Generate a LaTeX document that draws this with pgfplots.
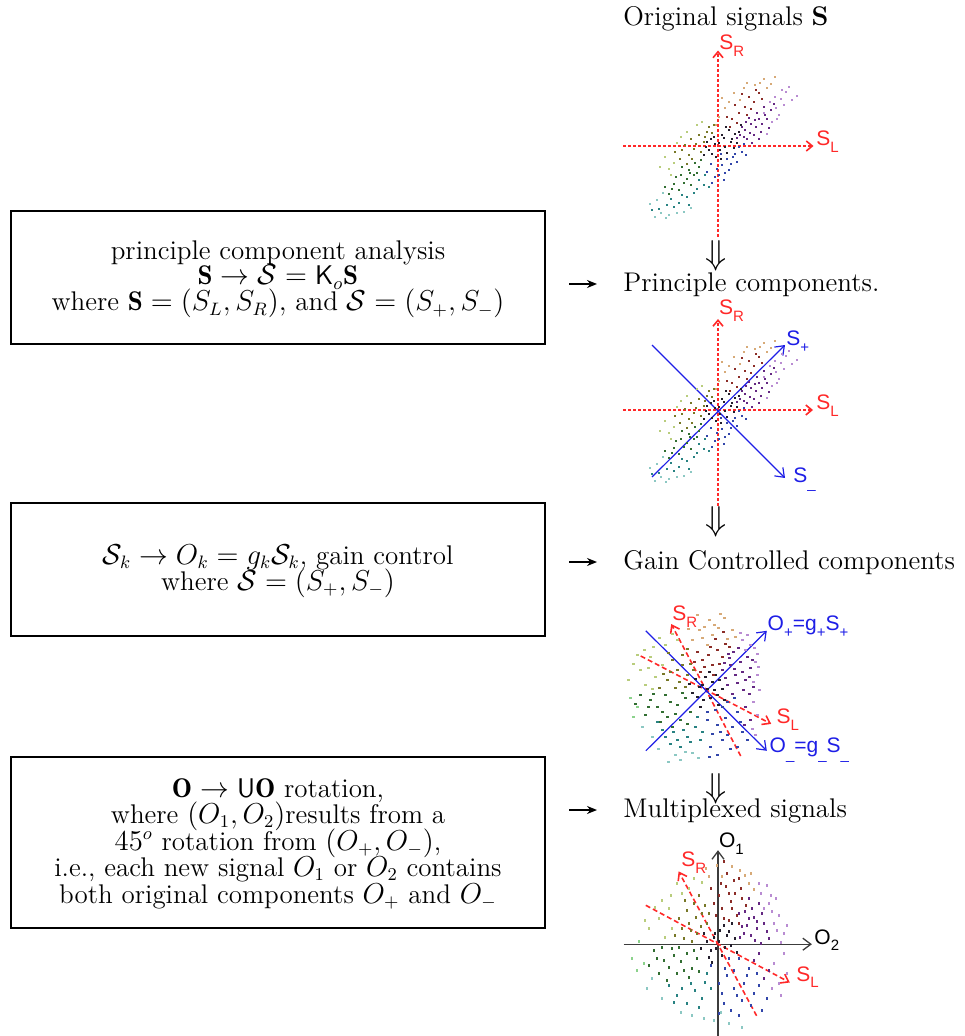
\documentclass[border=0pt]{standalone}
\usepackage{pgfplots}
\pgfplotsset{compat=1.18}
\usepackage{pgfplotstable}
\usepackage{fontspec}
\newfontfamily\arial{Liberation Sans}
\usetikzlibrary{arrows.meta}
\definecolor{cK}{RGB}{35,30,45}
\definecolor{cB}{RGB}{50,70,170}
\definecolor{cP}{RGB}{100,40,130}
\definecolor{cM}{RGB}{185,140,210}
\definecolor{cR}{RGB}{140,45,40}
\definecolor{cO}{RGB}{215,170,120}
\definecolor{cY}{RGB}{120,120,40}
\definecolor{cL}{RGB}{185,205,125}
\definecolor{cG}{RGB}{50,110,50}
\definecolor{cT}{RGB}{40,130,130}
\definecolor{cW}{RGB}{140,200,195}
\definecolor{cE}{RGB}{140,210,140}
\definecolor{sred}{RGB}{255,40,40}
\definecolor{sblue}{RGB}{30,30,230}
\definecolor{sgray}{RGB}{60,60,60}
\newcommand\lb[2]{#1\raisebox{-3.3pt}{\fontsize{7.5}{8}\selectfont #2}}
\pgfplotsset{
  panel/.style={hide axis, scale only axis, width=90pt, height=90pt,
    xmin=-0.9, xmax=0.9, ymin=-0.9, ymax=0.9, anchor=origin, clip=false},
  cloud/.style={scatter, only marks, mark size=0.4pt, scatter src=explicit symbolic,
    scatter/classes={
      K={mark=square*,draw=cK,fill=cK}, B={mark=square*,draw=cB,fill=cB},
      P={mark=square*,draw=cP,fill=cP}, M={mark=square*,draw=cM,fill=cM},
      R={mark=square*,draw=cR,fill=cR}, O={mark=square*,draw=cO,fill=cO},
      Y={mark=square*,draw=cY,fill=cY}, L={mark=square*,draw=cL,fill=cL},
      G={mark=square*,draw=cG,fill=cG}, T={mark=square*,draw=cT,fill=cT},
      W={mark=square*,draw=cW,fill=cW}, E={mark=square*,draw=cE,fill=cE}}},
  redax/.style={color=sred, line width=0.8pt, dash pattern=on 1.5pt off 1pt,
    -{Straight Barb[length=3pt,width=5pt]}},
  redax2/.style={color=sred, line width=0.8pt, dash pattern=on 2.5pt off 1.5pt,
    -{Straight Barb[length=3.5pt,width=5pt]}},
  blueax/.style={color=sblue, line width=0.6pt, -{Straight Barb[length=4pt,width=6pt]}},
  grayax/.style={color=sgray, line width=0.65pt, -{Straight Barb[length=4pt,width=6pt]}},
}
\pgfplotstableread{
x y c
0.01 0.03 K
-0.03 0.02 K
0.07 -0.01 K
-0.09 -0.04 K
0.04 0.11 K
0.13 0.04 K
-0.02 -0.11 K
0.09 -0.07 K
-0.07 0.07 K
0.02 -0.04 K
0.06 0.08 K
-0.12 -0.01 K
0.14 0.07 K
0.03 -0.13 K
0.17 0.12 K
-0.14 -0.09 K
0.11 0.16 K
-0.06 -0.08 K
0.21 0.14 K
0.08 0.19 K
-0.11 0.04 K
0.19 0.03 K
0.23 0.21 K
-0.04 0.09 K
0.16 -0.02 K
0.09 -0.13 B
0.17 -0.08 B
0.04 -0.19 B
0.21 -0.01 B
0.13 -0.18 B
-0.01 -0.23 B
0.24 -0.06 B
0.07 -0.27 B
-0.07 -0.18 B
0.19 -0.16 B
-0.03 -0.31 B
0.28 -0.09 B
-0.06 -0.37 B
0.01 -0.29 B
0.11 -0.24 B
0.26 0.02 B
0.15 -0.11 B
-0.11 -0.26 B
0.06 -0.34 B
0.03 -0.08 B
0.27 0.16 P
0.33 0.22 P
0.29 0.07 P
0.41 0.27 P
0.38 0.19 P
0.47 0.31 P
0.36 0.11 P
0.53 0.36 P
0.49 0.27 P
0.31 0.28 P
0.44 0.22 P
0.26 0.09 P
0.51 0.18 P
0.34 0.03 P
0.22 0.11 P
0.39 0.33 P
0.56 0.42 P
0.43 0.14 P
0.24 0.19 P
0.46 0.39 P
0.32 0.13 P
0.28 0.24 P
0.37 0.26 P
0.41 0.07 P
0.19 0.08 P
0.63 0.47 M
0.68 0.54 M
0.57 0.49 M
0.61 0.31 M
0.79 0.50 M
0.66 0.41 M
0.49 0.12 M
0.71 0.59 M
0.58 0.38 M
0.54 0.24 M
0.64 0.56 M
0.52 0.44 M
0.74 0.46 M
0.46 0.33 M
0.59 0.27 M
0.14 0.27 R
0.21 0.33 R
0.17 0.41 R
0.27 0.39 R
0.09 0.29 R
0.31 0.49 R
0.36 0.44 R
0.24 0.52 R
0.41 0.53 R
0.19 0.23 R
0.33 0.37 R
0.12 0.19 R
0.29 0.31 R
0.44 0.47 R
0.38 0.56 R
0.07 0.38 O
0.04 0.48 O
0.16 0.53 O
0.29 0.63 O
0.46 0.67 O
0.53 0.62 O
0.57 0.69 O
0.37 0.61 O
0.01 0.29 O
0.22 0.46 O
0.11 0.44 O
0.42 0.63 O
0.26 0.58 O
-0.02 0.21 O
0.49 0.58 O
-0.14 0.04 Y
-0.24 -0.03 Y
-0.19 0.11 Y
-0.29 -0.09 Y
-0.33 0.01 Y
-0.11 0.14 Y
-0.38 -0.13 Y
-0.27 0.07 Y
-0.43 -0.06 Y
-0.09 0.19 Y
-0.17 -0.06 Y
-0.22 0.02 Y
-0.31 -0.18 Y
-0.06 0.13 Y
-0.36 -0.04 Y
-0.13 0.09 Y
-0.26 -0.13 Y
-0.04 0.21 Y
-0.49 -0.23 L
-0.53 -0.11 L
-0.37 0.09 L
-0.21 0.21 L
-0.47 -0.29 L
-0.58 -0.21 L
-0.41 0.03 L
-0.31 0.14 L
-0.44 -0.17 L
-0.16 0.24 L
-0.24 -0.29 G
-0.29 -0.24 G
-0.34 -0.37 G
-0.39 -0.44 G
-0.27 -0.39 G
-0.44 -0.38 G
-0.19 -0.21 G
-0.49 -0.48 G
-0.37 -0.29 G
-0.17 -0.14 G
-0.31 -0.33 G
-0.23 -0.17 G
-0.42 -0.31 G
-0.36 -0.21 G
-0.46 -0.43 G
-0.28 -0.27 G
-0.53 -0.41 G
-0.21 -0.27 G
-0.19 -0.34 T
-0.24 -0.47 T
-0.14 -0.39 T
-0.31 -0.51 T
-0.39 -0.57 T
-0.44 -0.61 T
-0.51 -0.59 T
-0.09 -0.41 T
-0.29 -0.59 T
-0.59 -0.63 T
-0.66 -0.64 T
-0.36 -0.49 T
-0.21 -0.43 T
-0.47 -0.53 T
-0.13 -0.29 T
-0.57 -0.67 W
-0.49 -0.69 W
-0.61 -0.54 W
-0.41 -0.67 W
-0.68 -0.58 W
-0.34 -0.66 W
-0.55 -0.47 W
-0.63 -0.71 W
-0.27 -0.62 W
-0.52 -0.72 W
}\tabA
\pgfplotstableread{
x y c
0.01 0.02 K
0.06 0.09 K
-0.07 0.04 K
0.11 -0.04 K
-0.03 -0.09 K
0.13 0.11 K
-0.11 0.12 K
0.04 -0.07 K
-0.09 -0.06 K
0.08 0.01 K
-0.01 0.14 K
0.16 0.02 K
-0.14 -0.02 K
0.03 0.19 K
-0.06 -0.16 K
0.18 -0.09 K
-0.17 0.07 K
0.09 0.16 K
-0.04 0.06 K
0.12 -0.14 K
0.21 0.06 P
0.29 0.16 P
0.24 0.26 P
0.39 0.11 P
0.34 0.29 P
0.16 0.21 P
0.44 0.23 P
0.47 0.04 P
0.27 0.39 P
0.41 0.34 P
0.19 0.13 P
0.37 0.01 P
0.31 0.08 P
0.23 0.33 P
0.36 0.19 P
0.26 -0.03 P
0.43 0.14 P
0.18 0.28 P
0.32 0.43 P
0.28 0.22 P
0.22 0.37 P
0.46 0.31 P
0.49 0.29 M
0.44 0.46 M
0.51 0.16 M
0.36 0.51 M
0.51 0.37 M
0.53 0.01 M
0.48 0.43 M
0.41 0.56 M
0.52 0.24 M
0.39 0.41 M
0.47 0.09 M
0.34 0.58 M
0.06 0.26 R
-0.04 0.31 R
0.11 0.41 R
0.16 0.34 R
-0.09 0.39 R
-0.06 0.19 R
0.07 0.16 R
0.02 0.36 R
0.19 0.47 R
0.13 0.27 R
-0.02 0.24 R
0.09 0.52 R
0.23 0.44 R
-0.12 0.29 R
0.04 0.44 R
0.17 0.59 R
0.01 0.46 O
0.21 0.52 O
0.06 0.56 O
-0.07 0.61 O
0.12 0.63 O
-0.14 0.51 O
0.26 0.61 O
-0.09 0.76 O
0.03 0.71 O
0.18 0.73 O
-0.04 0.53 O
0.08 0.66 O
-0.18 0.62 O
0.14 0.77 O
-0.02 0.64 O
0.29 0.54 O
-0.19 0.16 Y
-0.29 0.21 Y
-0.24 0.36 Y
-0.39 0.11 Y
-0.34 0.31 Y
-0.16 0.27 Y
-0.21 0.04 Y
-0.47 0.03 Y
-0.27 0.09 Y
-0.36 0.19 Y
-0.19 0.42 Y
-0.31 0.03 Y
-0.43 0.17 Y
-0.24 0.26 Y
-0.13 0.21 Y
-0.38 0.38 Y
-0.44 0.26 L
-0.51 0.14 L
-0.56 0.34 L
-0.61 0.06 L
-0.41 0.46 L
-0.29 0.51 L
-0.66 0.21 L
-0.78 0.11 L
-0.69 0.36 L
-0.53 0.44 L
-0.47 0.53 L
-0.58 0.23 L
-0.34 0.57 L
-0.73 0.27 L
-0.62 0.41 L
-0.54 0.02 L
-0.21 -0.07 G
-0.29 -0.14 G
-0.41 -0.04 G
-0.26 -0.29 G
-0.44 -0.21 G
-0.34 -0.36 G
-0.56 -0.09 G
-0.61 -0.24 G
-0.66 -0.04 G
-0.16 -0.21 G
-0.36 -0.11 G
-0.49 -0.16 G
-0.31 -0.23 G
-0.53 -0.03 G
-0.24 -0.02 G
-0.46 -0.31 G
-0.39 -0.26 G
-0.71 -0.13 G
-0.19 -0.33 G
-0.58 -0.16 G
-0.49 -0.31 T
-0.41 -0.46 T
-0.29 -0.49 T
-0.09 -0.26 T
-0.04 -0.41 T
-0.16 -0.51 T
-0.33 -0.41 T
-0.23 -0.39 T
-0.11 -0.36 T
-0.26 -0.56 T
-0.44 -0.39 T
-0.19 -0.46 T
-0.36 -0.53 T
-0.06 -0.49 T
-0.54 -0.46 W
-0.21 -0.61 W
-0.08 -0.67 W
-0.38 -0.71 W
-0.26 -0.69 W
-0.69 -0.16 E
-0.64 -0.36 W
-0.76 -0.07 E
-0.48 -0.58 W
-0.14 -0.62 W
-0.73 -0.26 E
-0.31 -0.64 W
0.01 -0.29 B
0.11 -0.34 B
0.04 -0.56 B
0.11 -0.64 B
0.16 -0.49 B
0.01 -0.21 B
0.21 -0.11 B
0.31 -0.21 B
0.26 -0.36 B
0.36 -0.41 B
0.16 -0.16 B
0.41 -0.49 B
0.31 -0.56 B
0.06 -0.43 B
0.19 -0.27 B
0.24 -0.58 B
0.09 -0.19 B
0.34 -0.31 B
0.14 -0.41 B
0.03 -0.66 B
0.21 -0.44 B
0.28 -0.07 B
0.39 -0.16 P
0.44 -0.29 P
0.47 -0.11 M
0.49 -0.44 M
0.51 -0.24 M
0.43 -0.03 P
0.38 -0.34 P
0.46 -0.38 M
}\tabC
\pgfplotstableread{
x y c
0.01 0.03 K
0.07 -0.03 K
-0.04 0.07 K
0.09 0.09 K
-0.07 -0.06 K
0.04 -0.11 K
-0.11 0.03 K
0.13 -0.01 K
0.02 0.14 K
-0.02 -0.04 K
0.11 0.13 K
-0.09 -0.13 K
0.17 0.06 K
-0.14 0.11 K
0.06 0.19 K
-0.06 -0.18 K
0.19 -0.08 K
-0.17 -0.04 K
0.14 0.21 K
-0.03 0.11 K
0.06 0.26 R
0.14 0.36 R
-0.04 0.41 R
0.11 0.51 R
0.21 0.21 R
0.03 0.61 R
0.24 0.46 R
-0.07 0.56 R
0.09 0.71 R
0.16 0.64 R
0.04 0.36 R
0.19 0.29 R
0.01 0.49 R
0.13 0.43 R
0.28 0.39 R
-0.02 0.29 R
0.08 0.58 R
0.23 0.56 R
0.17 0.51 R
0.06 0.83 R
0.21 0.66 R
0.11 0.24 R
-0.01 0.79 O
0.31 0.61 O
0.22 0.74 O
-0.09 0.68 O
0.04 0.68 O
0.14 0.78 O
-0.12 0.76 O
0.27 0.69 O
0.36 0.55 O
0.33 0.71 O
0.31 0.26 P
0.39 0.16 P
0.34 0.36 P
0.44 0.31 P
0.26 0.11 P
0.51 0.06 P
0.21 0.31 P
0.37 0.04 P
0.29 0.19 P
0.46 0.21 P
0.41 0.41 P
0.33 0.09 P
0.24 0.18 P
0.49 0.13 P
0.36 0.27 P
0.43 0.01 P
0.27 0.33 P
0.31 0.46 P
0.22 0.07 P
0.39 0.23 P
0.51 0.41 M
0.56 0.21 M
0.43 0.51 M
0.61 0.29 M
0.66 0.11 M
0.49 0.59 M
0.54 0.33 M
0.58 0.46 M
0.63 0.02 M
0.46 0.36 M
0.69 0.19 M
0.53 0.49 M
0.41 0.61 M
0.59 0.14 M
-0.21 0.11 Y
-0.29 0.21 Y
-0.16 0.31 Y
-0.39 0.26 Y
-0.24 0.41 Y
-0.34 0.06 Y
-0.19 0.49 Y
-0.11 0.21 Y
-0.27 0.14 Y
-0.31 0.34 Y
-0.13 0.39 Y
-0.36 0.16 Y
-0.22 0.27 Y
-0.43 0.09 Y
-0.09 0.31 Y
-0.26 0.03 Y
-0.17 0.18 Y
-0.33 0.44 Y
-0.49 0.36 L
-0.46 0.16 L
-0.59 0.26 L
-0.29 0.56 L
-0.56 0.44 L
-0.41 0.61 L
-0.69 0.16 L
-0.24 0.66 L
-0.53 0.07 L
-0.63 0.37 L
-0.36 0.51 L
-0.47 0.49 L
-0.73 0.24 L
-0.16 0.62 L
-0.31 -0.09 G
-0.46 -0.04 G
-0.26 -0.24 G
-0.54 -0.16 G
-0.41 -0.29 G
-0.64 -0.06 G
-0.59 -0.29 G
-0.21 -0.14 G
-0.37 -0.17 G
-0.49 -0.23 G
-0.29 -0.33 G
-0.56 -0.03 G
-0.44 -0.11 G
-0.24 -0.06 G
-0.69 -0.21 G
-0.34 -0.26 G
-0.51 -0.36 G
-0.39 -0.03 G
-0.61 -0.14 G
-0.19 -0.27 G
-0.36 -0.44 T
-0.49 -0.41 T
-0.11 -0.29 T
-0.16 -0.54 T
-0.31 -0.59 T
-0.23 -0.46 T
-0.41 -0.51 T
-0.07 -0.44 T
-0.27 -0.39 T
-0.19 -0.63 T
-0.44 -0.58 T
-0.13 -0.38 T
-0.74 -0.19 E
-0.86 -0.14 E
-0.79 0.03 E
-0.71 -0.44 W
-0.56 -0.54 W
-0.04 -0.76 W
-0.26 -0.71 W
0.11 -0.79 W
0.24 -0.83 W
-0.66 -0.34 W
-0.81 -0.26 E
-0.37 -0.68 W
0.03 -0.68 W
-0.14 -0.74 W
0.01 -0.39 B
0.06 -0.59 B
0.16 -0.44 B
-0.07 -0.21 B
0.01 -0.69 B
0.21 -0.14 B
0.31 -0.24 B
0.26 -0.39 B
0.36 -0.49 B
0.49 -0.54 B
0.16 -0.26 B
0.09 -0.31 B
0.24 -0.56 B
0.13 -0.66 B
0.41 -0.41 B
0.04 -0.49 B
0.29 -0.31 B
0.19 -0.51 B
0.33 -0.61 B
0.07 -0.24 B
0.39 -0.29 B
0.11 -0.14 B
0.21 -0.71 B
0.44 -0.66 B
0.41 -0.09 P
0.46 -0.34 P
0.56 -0.19 M
0.61 -0.39 M
0.69 -0.29 M
0.63 -0.51 M
0.51 -0.26 P
0.36 -0.16 P
0.54 -0.44 M
0.66 -0.09 M
}\tabD
\begin{document}
\begin{tikzpicture}
\useasboundingbox (0,0) rectangle (482pt,-518pt);
\begin{scope}[x=0.5pt,y=-0.5pt]
  % boxes
  \draw[line width=1.3pt] (11,211) rectangle (545,344);
  \draw[line width=1.3pt] (11,503) rectangle (545,636);
  \draw[line width=1.3pt] (11,757) rectangle (545,928);
  \begin{scope}[every node/.style={anchor=base, font=\fontsize{13.5}{16}\selectfont, inner sep=0pt}]
    \node at (278,260) {principle component analysis};
    \node at (278,285) {$\mathbf{S}\rightarrow\mathcal{S}=\mathsf{K}_o\mathbf{S}$};
    \node at (278,311) {where $\mathbf{S}=(S_L,S_R),$ and $\mathcal{S}=(S_+,S_-)$};
    \node at (278,564) {$\mathcal{S}_k\rightarrow O_k=g_k\mathcal{S}_k$, gain control};
    \node at (278,590) {where $\mathcal{S}=(S_+,S_-)$};
    \node at (278,797) {$\mathbf{O}\rightarrow\mathsf{U}\mathbf{O}$ rotation,};
    \node at (278,823.5) {where $(O_1,O_2)$results from a};
    \node at (278,850) {$45^o$ rotation from $(O_+,O_-)$,};
    \node at (278,876.5) {i.e., each new signal $O_1$ or $O_2$ contains};
    \node at (278,903) {both original components $O_+$ and $O_-$};
  \end{scope}
  \begin{scope}[every node/.style={anchor=base west, font=\fontsize{13.5}{16}\selectfont, inner sep=0pt}]
    \node at (623,26) {Original signals \textbf{S}};
    \node at (623,291.7) {Principle components.};
    \node at (623,569) {Gain Controlled components};
    \node at (623,817) {Multiplexed signals};
  \end{scope}
  \foreach \yy in {284,562,810}
    \draw[line width=1.1pt,-{Stealth[length=5pt,width=4pt]}] (569,\yy) -- (597,\yy);
  \foreach \yy in {256,522,789}
    \node[font=\fontsize{16}{18}\selectfont, inner sep=0pt] at (716,\yy) {$\Downarrow$};
\end{scope}

% Panel 1: original signals
\begin{axis}[panel, at={(359pt,-73pt)}]
  \addplot[cloud] table[meta=c] {\tabA};
  \addplot[redax] coordinates {(-0.95,0) (0.955,0)};
  \addplot[redax] coordinates {(0,-0.91) (0,0.955)};
  \node[anchor=base west, text=sred, font=\arial\fontsize{10.5}{12}\selectfont, inner sep=0pt] at (axis cs:0.01,0.96) {\lb{S}{R}};
  \node[anchor=base west, text=sred, font=\arial\fontsize{10.5}{12}\selectfont, inner sep=0pt] at (axis cs:0.98,0) {\lb{S}{L}};
\end{axis}

% Panel 2: principal components
\begin{axis}[panel, at={(359pt,-205pt)}]
  \addplot[cloud] table[meta=c] {\tabA};
  \addplot[redax] coordinates {(-0.95,0) (0.95,0)};
  \addplot[redax] coordinates {(0,-0.96) (0,0.91)};
  \addplot[blueax] coordinates {(-0.66,-0.67) (0.67,0.65)};
  \addplot[blueax] coordinates {(-0.66,0.65) (0.67,-0.68)};
  \node[anchor=base west, text=sred, font=\arial\fontsize{10.5}{12}\selectfont, inner sep=0pt] at (axis cs:0.006,0.95) {\lb{S}{R}};
  \node[anchor=base west, text=sred, font=\arial\fontsize{10.5}{12}\selectfont, inner sep=0pt] at (axis cs:0.98,0) {\lb{S}{L}};
  \node[anchor=base west, text=sblue, font=\arial\fontsize{10.5}{12}\selectfont, inner sep=0pt] at (axis cs:0.68,0.64) {\lb{S}{+}};
  \node[anchor=base west, text=sblue, font=\arial\fontsize{10.5}{12}\selectfont, inner sep=0pt] at (axis cs:0.75,-0.72) {\lb{S}{\_}};
\end{axis}

% Panel 3: gain controlled
\begin{axis}[panel, at={(353.15pt,-345.4pt)}]
  \addplot[cloud] table[meta=c] {\tabC};
  \addplot[redax2] coordinates {(0.344,-0.652) (-0.351,0.668)};
  \addplot[redax2] coordinates {(-0.656,0.348) (0.649,-0.331)};
  \addplot[blueax] coordinates {(-0.605,-0.60) (0.605,0.60)};
  \addplot[blueax] coordinates {(-0.605,0.60) (0.605,-0.60)};
  \node[anchor=base west, text=sred, font=\arial\fontsize{10.5}{12}\selectfont, inner sep=0pt] at (axis cs:-0.343,0.70) {\lb{S}{R}};
  \node[anchor=base west, text=sred, font=\arial\fontsize{10.5}{12}\selectfont, inner sep=0pt] at (axis cs:0.70,-0.33) {\lb{S}{L}};
  \node[anchor=base west, text=sblue, font=\arial\fontsize{10.5}{12}\selectfont, inner sep=0pt] at (axis cs:0.61,0.60) {\lb{O}{+}=\lb{g}{+}\lb{S}{+}};
  \node[anchor=base west, text=sblue, font=\arial\fontsize{10.5}{12}\selectfont, inner sep=0pt] at (axis cs:0.63,-0.62) {\lb{O}{\_}=\lb{g}{\_}\lb{S}{\_}};
\end{axis}

% Panel 4: multiplexed
\begin{axis}[panel, at={(359pt,-472.1pt)}]
  \addplot[cloud] table[meta=c] {\tabD};
  \addplot[grayax] coordinates {(-0.943,0) (0.939,0)};
  \addplot[grayax] coordinates {(0,-0.93) (0,0.94)};
  \addplot[redax2] coordinates {(0.386,-0.716) (-0.394,0.728)};
  \addplot[redax2] coordinates {(-0.722,0.389) (0.718,-0.383)};
  \node[anchor=base west, text=black, font=\arial\fontsize{10.5}{12}\selectfont, inner sep=0pt] at (axis cs:0.006,0.966) {\lb{O}{1}};
  \node[anchor=base west, text=black, font=\arial\fontsize{10.5}{12}\selectfont, inner sep=0pt] at (axis cs:0.96,0) {\lb{O}{2}};
  \node[anchor=base west, text=sred, font=\arial\fontsize{10.5}{12}\selectfont, inner sep=0pt] at (axis cs:-0.37,0.776) {\lb{S}{R}};
  \node[anchor=base west, text=sred, font=\arial\fontsize{10.5}{12}\selectfont, inner sep=0pt] at (axis cs:0.78,-0.37) {\lb{S}{L}};
\end{axis}
\end{tikzpicture}
\end{document}
